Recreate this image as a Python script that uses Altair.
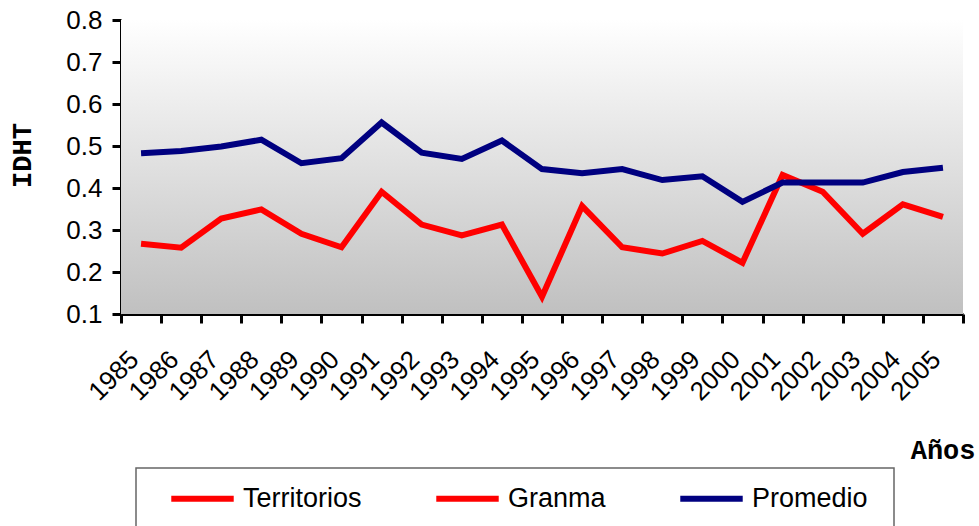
import altair as alt
import pandas as pd

# Años e índices IDHT
years = [str(y) for y in range(1985, 2006)]
granma = [0.267, 0.258, 0.327, 0.349, 0.291, 0.259, 0.391, 0.313, 0.287, 0.313,
          0.141, 0.357, 0.259, 0.244, 0.274, 0.222, 0.431, 0.391, 0.291, 0.361, 0.331]
promedio = [0.483, 0.488, 0.499, 0.515, 0.459, 0.471, 0.556, 0.484, 0.469, 0.513,
            0.445, 0.435, 0.445, 0.419, 0.428, 0.367, 0.413, 0.413, 0.413, 0.438, 0.448]
series_names = ["Territorios", "Granma", "Promedio"]
series_colors = ["#ff0000", "#ff0000", "#000080"]

df = pd.DataFrame(
    {"Año": years * 2,
     "IDHT": granma + promedio,
     "Serie": ["Granma"] * len(years) + ["Promedio"] * len(years)}
)

W, H = 842, 294
SANS = "Liberation Sans"
MONO = "Liberation Mono"

# Fondo degradado del área de trazado
background = alt.Chart(pd.DataFrame({"a": [0]})).mark_rect(
    fill=alt.Gradient(
        gradient="linear", x1=0, y1=0, x2=0, y2=1,
        stops=[alt.GradientStop(color="#ffffff", offset=0),
               alt.GradientStop(color="#c0c0c0", offset=1)],
    )
).encode(x=alt.value(0), x2=alt.value(W), y=alt.value(0), y2=alt.value(H))

# Marco de la leyenda
legend_box = alt.Chart(pd.DataFrame({"a": [0]})).mark_rect(
    fill="white", stroke="#666666", strokeWidth=1.5, clip=False
).encode(x=alt.value(136 - 121), x2=alt.value(894 - 121),
         y=alt.value(468 - 20), y2=alt.value(540 - 20))

lines = alt.Chart(df).mark_line(strokeWidth=6, strokeJoin="miter", clip=False).encode(
    x=alt.X(
        "Año:O",
        bandPosition=0.5,
        scale=alt.Scale(type="band", paddingInner=0, paddingOuter=0),
        axis=alt.Axis(
            title="Años", titleFont=MONO, titleFontSize=27, titleFontWeight="bold",
            titleAlign="right", titleBaseline="middle", titleX=975 - 121, titleY=450 - 314,
            labelAngle=-45, labelFont=SANS, labelFontSize=26, labelColor="black",
            labelAlign="right", labelBaseline="middle", labelPadding=32, labelOffset=-7,
            tickBand="extent", tickSize=9, tickWidth=3, tickColor="black",
            domainWidth=3, domainColor="black", grid=False,
        ),
    ),
    y=alt.Y(
        "IDHT:Q",
        scale=alt.Scale(domain=[0.1, 0.8], nice=False, zero=False),
        axis=alt.Axis(
            title="IDHT", titleFont=MONO, titleFontSize=27, titleFontWeight="bold",
            titleAngle=270, titleAlign="center", titleBaseline="middle",
            titleX=22 - 121, titleY=155 - 20,
            values=[0.1, 0.2, 0.3, 0.4, 0.5, 0.6, 0.7, 0.8], format=".1f",
            labelFont=SANS, labelFontSize=26, labelColor="black", labelPadding=10,
            tickSize=9, tickWidth=3, tickColor="black",
            domainWidth=3, domainColor="black", grid=False,
        ),
    ),
    color=alt.Color(
        "Serie:N",
        scale=alt.Scale(domain=series_names, range=series_colors),
        legend=alt.Legend(
            title=None, orient="none", direction="horizontal",
            legendX=168 - 121, legendY=444,
            symbolType="stroke", symbolSize=3900, symbolStrokeWidth=6,
            labelFont=SANS, labelFontSize=27, labelColor="black",
            labelOffset=6, columnPadding=62, padding=0,
        ),
    ),
)

chart = alt.layer(background, legend_box, lines).properties(
    width=W, height=H,
    autosize=alt.AutoSizeParams(type="none"),
    padding={"left": 121, "top": 20, "right": 979 - 121 - W, "bottom": 526 - 20 - H},
).configure_view(stroke=None)

chart.save("out.html", embed_options={"renderer": "svg", "actions": False})
